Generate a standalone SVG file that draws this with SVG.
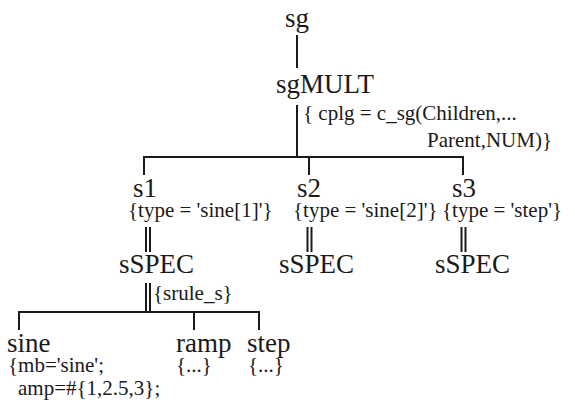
<svg xmlns="http://www.w3.org/2000/svg" width="575" height="409" viewBox="0 0 575 409">
  <style>
    text { font-family: "Times New Roman", Times, "Liberation Serif", "Noto Serif", "DejaVu Serif", serif; fill: #1a1a1a; }
    .big { font-size: 27px; }
    .small { font-size: 21px; }
    .edge { stroke: #1a1a1a; stroke-width: 2; fill: none; }
  </style>
  <rect width="575" height="409" fill="#ffffff"/>

  <g id="connectors">
    <line class="edge" x1="297" y1="35" x2="297" y2="68"/>
    <line class="edge" x1="297" y1="105" x2="297" y2="157"/>
    <polyline class="edge" points="144,175 144,157 463,157 463,175"/>
    <line class="edge" x1="309" y1="157" x2="309" y2="175"/>
    <!-- double links to the sSPEC nodes -->
    <line class="edge" x1="146" y1="227" x2="146" y2="252"/>
    <line class="edge" x1="150" y1="227" x2="150" y2="252"/>
    <line class="edge" x1="307.5" y1="227" x2="307.5" y2="252"/>
    <line class="edge" x1="311.5" y1="227" x2="311.5" y2="252"/>
    <line class="edge" x1="461.5" y1="227" x2="461.5" y2="252"/>
    <line class="edge" x1="465.5" y1="227" x2="465.5" y2="252"/>
    <line class="edge" x1="146" y1="283" x2="146" y2="312"/>
    <line class="edge" x1="150" y1="283" x2="150" y2="312"/>
    <polyline class="edge" points="19,330 19,312 259,312 259,330"/>
    <line class="edge" x1="194" y1="312" x2="194" y2="330"/>
  </g>

  <g id="sg">
    <text class="big" x="285" y="27">sg</text>
  </g>
  <g id="sgMULT">
    <text class="big" x="276" y="93">sgMULT</text>
    <text class="small" x="303" y="120">{ cplg = c_sg(Children,...</text>
    <text class="small" x="427" y="147">Parent,NUM)}</text>
  </g>

  <g id="s1">
    <text class="big" x="133" y="197">s1</text>
    <text class="small" x="128" y="217">{type = 'sine[1]'}</text>
  </g>
  <g id="s2">
    <text class="big" x="297" y="197">s2</text>
    <text class="small" x="293" y="217">{type = 'sine[2]'}</text>
  </g>
  <g id="s3">
    <text class="big" x="452" y="197">s3</text>
    <text class="small" x="442" y="217">{type = 'step'}</text>
  </g>

  <g id="sSPEC1">
    <text class="big" x="119" y="273">sSPEC</text>
    <text class="small" x="153" y="300">{srule_s}</text>
  </g>
  <g id="sSPEC2">
    <text class="big" x="279" y="273">sSPEC</text>
  </g>
  <g id="sSPEC3">
    <text class="big" x="435" y="273">sSPEC</text>
  </g>

  <g id="sine">
    <text class="big" x="7" y="352">sine</text>
    <text class="small" x="8" y="372">{mb='sine';</text>
    <text class="small" x="18" y="395">amp=#{1,2.5,3};</text>
  </g>
  <g id="ramp">
    <text class="big" x="176" y="352">ramp</text>
    <text class="small" x="176" y="372">{...}</text>
  </g>
  <g id="step">
    <text class="big" x="247" y="352">step</text>
    <text class="small" x="248" y="372">{...}</text>
  </g>
</svg>
